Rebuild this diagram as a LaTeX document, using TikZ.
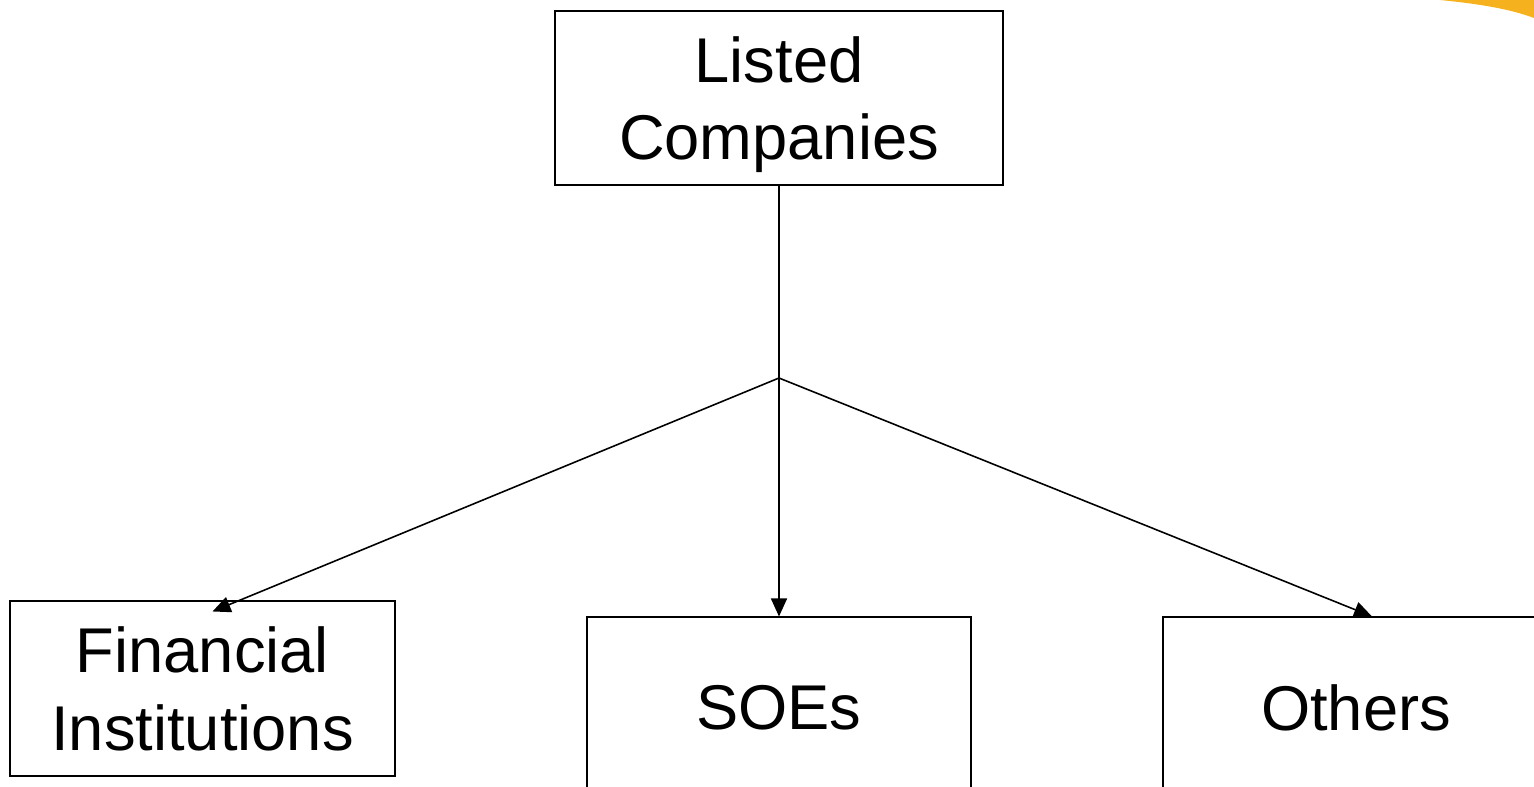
\documentclass[tikz,border=0pt]{standalone}
\usepackage{fontspec}
\setmainfont{Liberation Sans}
\usetikzlibrary{positioning,arrows.meta,calc}
\definecolor{swoosh}{RGB}{246,178,30}
\tikzset{
  orgbox/.style={draw,line width=0.6pt,align=center,inner sep=0pt,
    font=\fontsize{36}{44}\selectfont},
  twoline/.style={text depth=0pt},
  >={Triangle[length=3.6mm,width=3.2mm]},
}

\begin{document}
\begin{tikzpicture}[
  x=0.02cm,y=-0.02cm,
  every edge/.style={draw,->,line width=0.9pt}
]
\useasboundingbox (0,0) rectangle (1534,787);
\clip (0,0) rectangle (1534,787);

% corner decoration
\fill[swoosh] (1440,0) .. controls (1480,4) and (1510,9) .. (1534,18) -- (1534,0) -- cycle;

\node[orgbox,twoline,minimum width=448*0.02cm,minimum height=174*0.02cm] (listed) at (779,98) {Listed\\Companies};
\node[orgbox,twoline,minimum width=385*0.02cm,minimum height=175*0.02cm] (fin) at (202.5,688.5) {Financial\\Institutions};
\node[orgbox,minimum width=384*0.02cm,minimum height=182*0.02cm] (soe) at (779,708) {SOEs};
\node[orgbox,minimum width=386*0.02cm,minimum height=182*0.02cm] (oth) at (1356,708) {Others};

\coordinate (split) at (779,378);

\draw[line width=0.9pt] (listed.south) -- (split);
\path
(split) edge ([shift={(10,11)}]fin.north)
(split) edge (soe.north)
(split) edge ([shift={(16,0)}]oth.north);

\end{tikzpicture}
\end{document}
